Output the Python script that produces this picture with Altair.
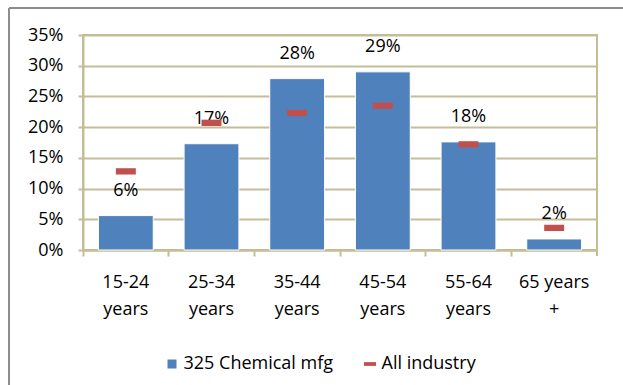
import altair as alt
import pandas as pd

# Share of workforce by age group
age_groups = ["15-24 years", "25-34 years", "35-44 years", "45-54 years", "55-64 years", "65 years +"]
chemical_mfg = [0.056, 0.173, 0.279, 0.290, 0.176, 0.018]
all_industry = [0.128, 0.207, 0.223, 0.235, 0.172, 0.036]
series_names = ["325 Chemical mfg", "All industry"]
y_ticks = [0, 0.05, 0.10, 0.15, 0.20, 0.25, 0.30, 0.35]

BLUE = "#4f81bd"
RED = "#c0504d"
GRID = "#c4bd97"
FRAME = "#8c8c8c"
FONT = "Open Sans"
DASH = "M-1.33,-0.42L1.33,-0.42L1.33,0.42L-1.33,0.42Z"

W, H = 514, 215

chem = pd.DataFrame({"age": age_groups, "share": chemical_mfg, "series": series_names[0]})
ind = pd.DataFrame({"age": age_groups, "share": all_industry, "series": series_names[1]})

x = alt.X(
    "age:N",
    sort=age_groups,
    scale=alt.Scale(paddingInner=0, paddingOuter=0),
    axis=alt.Axis(
        title=None,
        labelAngle=0,
        bandPosition=0,
        labelExpr="datum.value == '65 years +' ? ['65 years', '+'] : split(datum.value, ' ')",
        labelFont=FONT,
        labelFontSize=18,
        labelColor="#000000",
        labelBaseline="top",
        labelLineHeight=27,
        labelPadding=17,
        tickSize=6,
        tickColor=GRID,
        tickWidth=2,
        domainColor=GRID,
        domainWidth=2,
        grid=False,
    ),
)
y = alt.Y(
    "share:Q",
    scale=alt.Scale(domain=[0, 0.35], nice=False),
    axis=alt.Axis(
        title=None,
        values=y_ticks,
        format=".0%",
        labelFont=FONT,
        labelFontSize=18,
        labelColor="#000000",
        labelPadding=15,
        tickSize=5,
        tickColor=GRID,
        tickWidth=2,
        domainColor=GRID,
        domainWidth=2,
        gridColor=GRID,
        gridWidth=2,
    ),
)

legend_common = dict(
    title=None,
    orient="none",
    legendX=80,
    legendY=320,
    direction="horizontal",
    padding=0,
    symbolSize=81,
    symbolStrokeWidth=0,
    labelFont=FONT,
    labelFontSize=18,
    labelColor="#000000",
    labelOffset=2.5,
    columnPadding=27,
)
color = alt.Color(
    "series:N",
    scale=alt.Scale(domain=series_names, range=[BLUE, RED]),
    legend=alt.Legend(**legend_common),
)
shape = alt.Shape(
    "series:N",
    scale=alt.Scale(domain=series_names, range=["square", DASH]),
    legend=alt.Legend(**legend_common),
)

bars = alt.Chart(chem).mark_bar(
    width=alt.RelativeBandSize(0.64), stroke="white", strokeWidth=1
).encode(x=x, y=y, color=color, shape=shape)

labels = alt.Chart(chem).mark_text(
    dy=-25, font=FONT, fontSize=18, color="#000000", baseline="middle"
).encode(x=x, y=y, text=alt.Text("share:Q", format=".0%"))

dashes = alt.Chart(ind).mark_point(
    filled=True, size=225, opacity=1, strokeWidth=0
).encode(x=x, y=y, color=color, shape=shape)

# closing tick at the right end of the category axis
end_tick = alt.Chart(alt.Data(values=[{}])).mark_rule(color=GRID, strokeWidth=2).encode(
    x=alt.value(W), y=alt.value(H), y2=alt.value(H + 6)
)

# outer chart frame
frame_data = alt.Data(values=[{}])
frame_left = alt.Chart(frame_data).mark_rule(color=FRAME, strokeWidth=2).encode(
    x=alt.value(-74), y=alt.value(-27), y2=alt.value(360)
)
frame_top = alt.Chart(frame_data).mark_rule(color=FRAME, strokeWidth=2).encode(
    x=alt.value(-74), x2=alt.value(560), y=alt.value(-27)
)

chart = (
    alt.layer(bars, labels, dashes, end_tick, frame_left, frame_top)
    .properties(
        width=W,
        height=H,
        autosize=alt.AutoSizeParams(type="none"),
        padding={"left": 83, "top": 35, "right": 26, "bottom": 135},
        background="white",
    )
    .configure_view(stroke=GRID, strokeWidth=2)
)

chart.save("out.html", embed_options={"renderer": "svg", "actions": False})
